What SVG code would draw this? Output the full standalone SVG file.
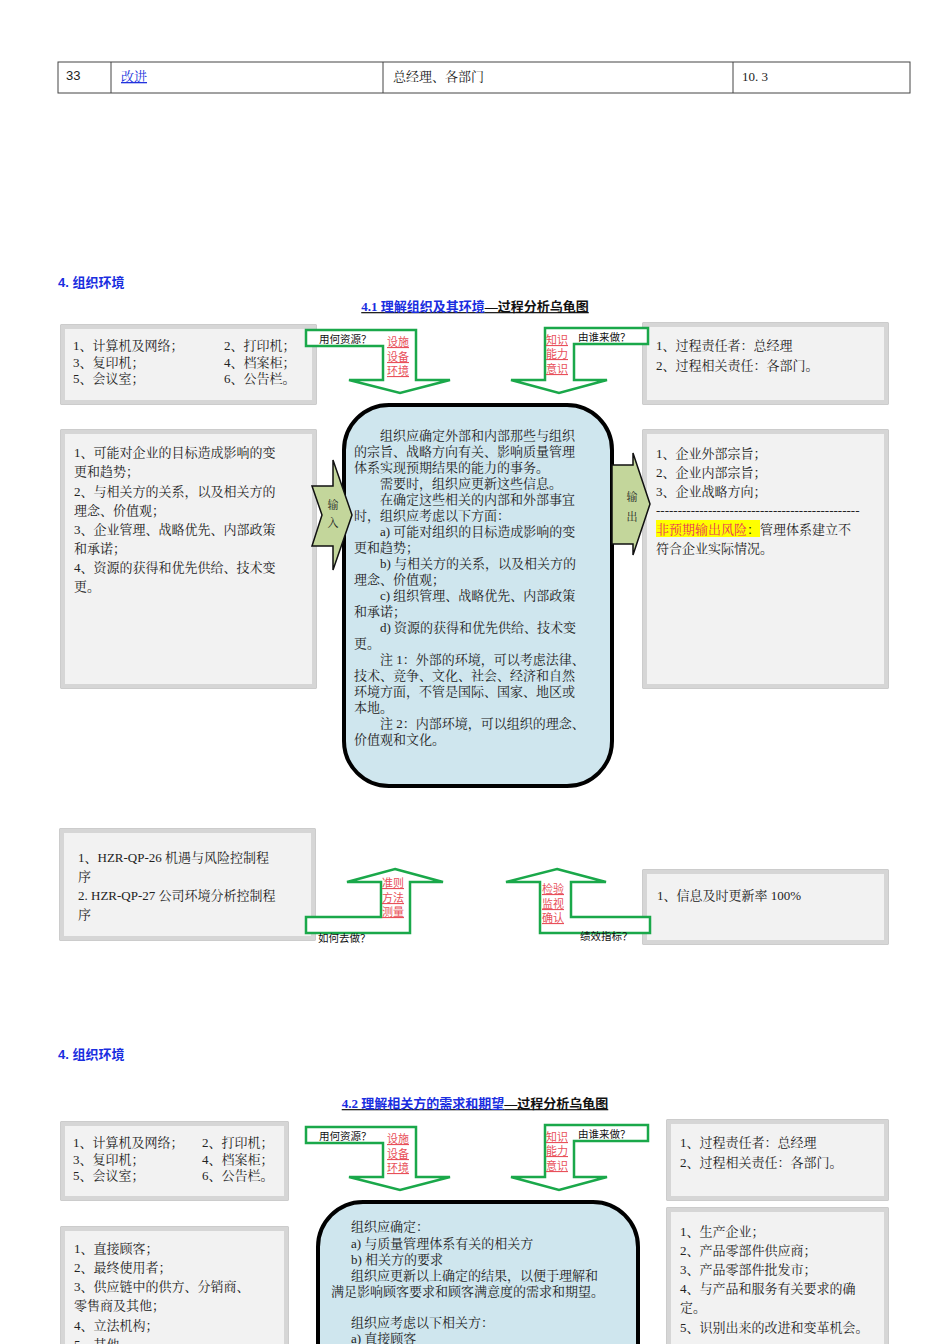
<svg xmlns="http://www.w3.org/2000/svg" width="950" height="1344" viewBox="0 0 950 1344">
<style>
text{font-family:"Liberation Serif","Noto Serif CJK SC","Noto Sans CJK SC",serif;font-size:13px;fill:#222}
.sm{font-family:"Liberation Sans","Noto Sans CJK SC",sans-serif;font-size:10.5px;fill:#111}
.red{font-family:"Liberation Sans","Noto Sans CJK SC",sans-serif;font-size:11px;fill:#e8505a;text-decoration:underline}
.h{font-family:"Liberation Sans","Noto Sans CJK SC",sans-serif;font-size:13px;font-weight:bold;fill:#1a2ee0}
.t{font-family:"Liberation Serif","Noto Sans CJK SC",serif;font-size:13px;font-weight:bold;text-decoration:underline}
.box{fill:#f2f2f2;stroke:#999;stroke-width:1}
.bev{fill:none;stroke:#d6d6d6;stroke-width:4}
.ga{fill:#fff;stroke:#1aa84a;stroke-width:2.5}
.io{fill:#c3d69b;stroke:#111;stroke-width:1.5}
.core{fill:#cfe6ee;stroke:#000;stroke-width:4}
</style>
<g id="table">
<rect x="58" y="62" width="852" height="31" fill="#fff" stroke="#444"/>
<line x1="111" y1="62" x2="111" y2="93" stroke="#444"/><line x1="383" y1="62" x2="383" y2="93" stroke="#444"/><line x1="733" y1="62" x2="733" y2="93" stroke="#444"/>
<text x="66" y="80" style="font-family:'Liberation Sans',sans-serif">33</text>
<text x="121" y="81" style="fill:#2233dd;text-decoration:underline">改进</text>
<text x="393" y="81">总经理、各部门</text>
<text x="742" y="81">10. 3</text>
</g>
<text class="h" x="58" y="287">4. 组织环境</text>
<text class="t" x="475" y="311" text-anchor="middle"><tspan fill="#1a2ee0">4.1 理解组织及其环境</tspan><tspan fill="#111">—过程分析乌龟图</tspan></text>

<g id="res1"><rect class="box" x="61" y="325" width="255" height="79"/><rect class="bev" x="63" y="327" width="251" height="75"/>
<text x="73" y="350">1、计算机及网络；</text><text x="224" y="350">2、打印机；</text>
<text x="73" y="367">3、复印机；</text><text x="224" y="367">4、档案柜；</text>
<text x="73" y="383">5、会议室；</text><text x="224" y="383">6、公告栏。</text></g>
<g id="who1"><rect class="box" x="643" y="323" width="245" height="81"/><rect class="bev" x="645" y="325" width="241" height="77"/>
<text x="656" y="350">1、过程责任者：总经理</text><text x="656" y="370">2、过程相关责任：各部门。</text></g>
<g id="in1"><rect class="box" x="61" y="430" width="255" height="258"/><rect class="bev" x="63" y="432" width="251" height="254"/>
<text x="74" y="457">1、可能对企业的目标造成影响的变</text><text x="74" y="476">更和趋势；</text>
<text x="74" y="496">2、与相关方的关系，以及相关方的</text><text x="74" y="515">理念、价值观；</text>
<text x="74" y="534">3、企业管理、战略优先、内部政策</text><text x="74" y="553">和承诺；</text>
<text x="74" y="572">4、资源的获得和优先供给、技术变</text><text x="74" y="591">更。</text></g>
<g id="out1"><rect class="box" x="643" y="430" width="245" height="258"/><rect class="bev" x="645" y="432" width="241" height="254"/>
<text x="656" y="458">1、企业外部宗旨；</text><text x="656" y="477">2、企业内部宗旨；</text><text x="656" y="496">3、企业战略方向；</text>
<text x="656" y="515">-----------------------------------------------</text>
<rect x="656" y="520" width="104" height="17" fill="#ffff00"/>
<text x="656" y="534"><tspan fill="#e8305a">非预期输出风险</tspan>：管理体系建立不</text><text x="656" y="553">符合企业实际情况。</text></g>
<g id="core1"><rect class="core" x="344" y="405" width="268" height="381" rx="45"/>
<text x="354" y="440">　　组织应确定外部和内部那些与组织</text>
<text x="354" y="456">的宗旨、战略方向有关、影响质量管理</text>
<text x="354" y="472">体系实现预期结果的能力的事务。</text>
<text x="354" y="488">　　需要时，组织应更新这些信息。</text>
<text x="354" y="504">　　在确定这些相关的内部和外部事宜</text>
<text x="354" y="520">时，组织应考虑以下方面：</text>
<text x="354" y="536">　　a) 可能对组织的目标造成影响的变</text>
<text x="354" y="552">更和趋势；</text>
<text x="354" y="568">　　b) 与相关方的关系，以及相关方的</text>
<text x="354" y="584">理念、价值观；</text>
<text x="354" y="600">　　c) 组织管理、战略优先、内部政策</text>
<text x="354" y="616">和承诺；</text>
<text x="354" y="632">　　d) 资源的获得和优先供给、技术变</text>
<text x="354" y="648">更。</text>
<text x="354" y="664">　　注 1：外部的环境，可以考虑法律、</text>
<text x="354" y="680">技术、竞争、文化、社会、经济和自然</text>
<text x="354" y="696">环境方面，不管是国际、国家、地区或</text>
<text x="354" y="712">本地。</text>
<text x="354" y="728">　　注 2：内部环境，可以组织的理念、</text>
<text x="354" y="744">价值观和文化。</text></g>
<g id="inArrow1"><polygon class="io" points="312,486 333,486 333,460 352,515 333,570 333,546 312,546 322,515"/>
<text x="333" y="509" text-anchor="middle" style="font-size:11px">输</text><text x="333" y="527" text-anchor="middle" style="font-size:11px">入</text></g>
<g id="outArrow1"><polygon class="io" points="612,465 633,465 633,453 650,504 633,555 633,544 612,544"/>
<text x="632" y="501" text-anchor="middle" style="font-size:11px">输</text><text x="632" y="521" text-anchor="middle" style="font-size:11px">出</text></g>
<g id="how1"><rect class="box" x="60" y="829" width="255" height="111"/><rect class="bev" x="62" y="831" width="251" height="107"/>
<text x="78" y="862">1、HZR-QP-26 机遇与风险控制程</text><text x="78" y="881">序</text>
<text x="78" y="900">2. HZR-QP-27 公司环境分析控制程</text><text x="78" y="919">序</text></g>
<g id="kpi1"><rect class="box" x="643" y="870" width="245" height="74"/><rect class="bev" x="645" y="872" width="241" height="70"/>
<text x="657" y="900">1、信息及时更新率 100%</text></g>
<g id="connectors1">
<polygon class="ga" points="306,330 416,330 416,380 450,380 400,393 349,380 383,380 383,346 306,346"/>
<polygon class="ga" points="648,328 648,344 574,344 574,380 607,380 559,393 511,380 545,380 545,328"/>
<polygon class="ga" points="395,869 443,882 410,882 410,933 306,933 306,917 381,917 381,882 347,882"/>
<polygon class="ga" points="557,869 606,882 571,882 571,917 650,917 650,933 540,933 540,882 506,882"/>
<text class="sm" x="319" y="343">用何资源？</text>
<text class="red" x="387" y="346">设施</text><text class="red" x="387" y="361">设备</text><text class="red" x="387" y="375">环境</text>
<text class="red" x="546" y="344">知识</text><text class="red" x="546" y="358">能力</text><text class="red" x="546" y="373">意识</text>
<text class="sm" x="578" y="341">由谁来做？</text>
<text class="red" x="382" y="887">准则</text><text class="red" x="382" y="902">方法</text><text class="red" x="382" y="916">测量</text>
<text class="red" x="542" y="893">检验</text><text class="red" x="542" y="908">监视</text><text class="red" x="542" y="922">确认</text>
<text class="sm" x="318" y="942">如何去做？</text>
<text class="sm" x="580" y="940">绩效指标？</text>
</g>

<text class="h" x="58" y="1059">4. 组织环境</text>
<text class="t" x="475" y="1108" text-anchor="middle"><tspan fill="#1a2ee0">4.2 理解相关方的需求和期望</tspan><tspan fill="#111">—过程分析乌龟图</tspan></text>
<g id="res2"><rect class="box" x="61" y="1122" width="227" height="78"/><rect class="bev" x="63" y="1124" width="223" height="74"/>
<text x="73" y="1147">1、计算机及网络；</text><text x="202" y="1147">2、打印机；</text>
<text x="73" y="1164">3、复印机；</text><text x="202" y="1164">4、档案柜；</text>
<text x="73" y="1180">5、会议室；</text><text x="202" y="1180">6、公告栏。</text></g>
<g id="who2"><rect class="box" x="667" y="1120" width="221" height="80"/><rect class="bev" x="669" y="1122" width="217" height="76"/>
<text x="680" y="1147">1、过程责任者：总经理</text><text x="680" y="1167">2、过程相关责任：各部门。</text></g>
<g id="in2"><rect class="box" x="61" y="1227" width="227" height="130"/><rect class="bev" x="63" y="1229" width="223" height="126"/>
<text x="74" y="1253">1、直接顾客；</text><text x="74" y="1272">2、最终使用者；</text>
<text x="74" y="1291">3、供应链中的供方、分销商、</text><text x="74" y="1310">零售商及其他；</text>
<text x="74" y="1330">4、立法机构；</text><text x="74" y="1349">5、其他。</text></g>
<g id="out2"><rect class="box" x="667" y="1208" width="221" height="150"/><rect class="bev" x="669" y="1210" width="217" height="146"/>
<text x="680" y="1236">1、生产企业；</text><text x="680" y="1255">2、产品零部件供应商；</text>
<text x="680" y="1274">3、产品零部件批发市；</text><text x="680" y="1293">4、与产品和服务有关要求的确</text>
<text x="680" y="1312">定。</text><text x="680" y="1332">5、识别出来的改进和变革机会。</text></g>
<g id="core2"><rect class="core" x="318" y="1202" width="320" height="220" rx="45"/>
<text x="351" y="1231">组织应确定：</text>
<text x="351" y="1248">a) 与质量管理体系有关的相关方</text>
<text x="351" y="1264">b) 相关方的要求</text>
<text x="351" y="1280">组织应更新以上确定的结果，以便于理解和</text>
<text x="331" y="1296">满足影响顾客要求和顾客满意度的需求和期望。</text>
<text x="351" y="1327">组织应考虑以下相关方：</text>
<text x="351" y="1343">a) 直接顾客</text></g>
<g id="connectors2">
<polygon class="ga" points="306,1127 416,1127 416,1177 450,1177 400,1190 349,1177 383,1177 383,1143 306,1143"/>
<polygon class="ga" points="648,1125 648,1141 574,1141 574,1177 607,1177 559,1190 511,1177 545,1177 545,1125"/>
<text class="sm" x="319" y="1140">用何资源？</text>
<text class="red" x="387" y="1143">设施</text><text class="red" x="387" y="1158">设备</text><text class="red" x="387" y="1172">环境</text>
<text class="red" x="546" y="1141">知识</text><text class="red" x="546" y="1155">能力</text><text class="red" x="546" y="1170">意识</text>
<text class="sm" x="578" y="1138">由谁来做？</text>
</g>
</svg>
